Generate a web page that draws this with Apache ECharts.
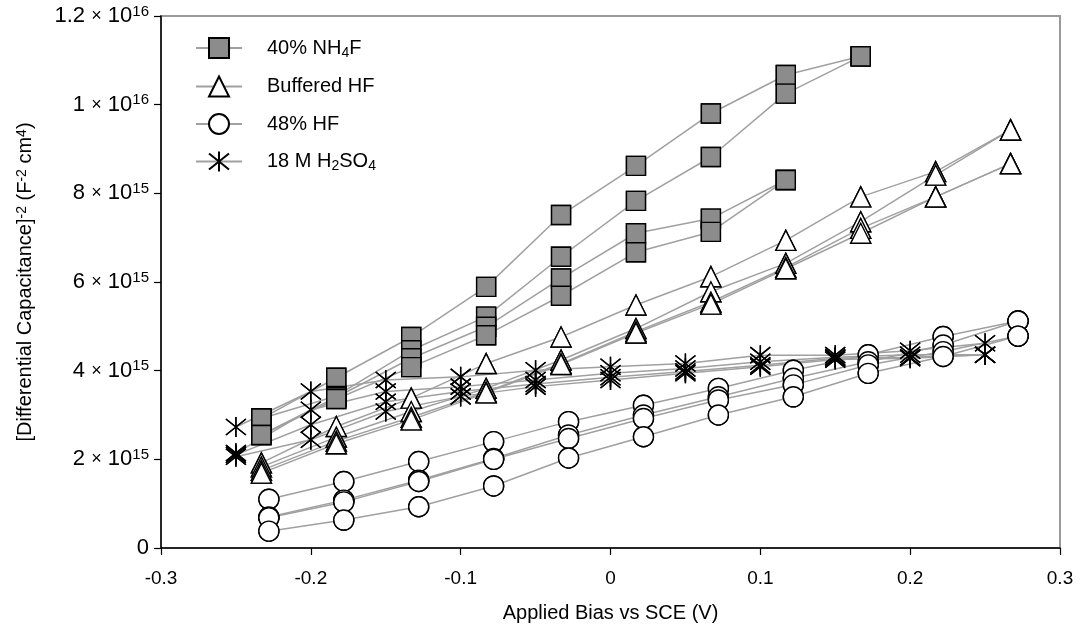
<!DOCTYPE html>
<html><head><meta charset="utf-8">
<script src="https://cdn.jsdelivr.net/npm/echarts@6/dist/echarts.min.js"></script>
<style>html,body{margin:0;padding:0;background:#fff}#c{width:1084px;height:641px}</style>
</head><body><div id="c"></div>
<script>
// x positions (V)
const xNH4F = [-0.233,-0.183,-0.133,-0.083,-0.033,0.017,0.067,0.117,0.167];
const xBHF  = [-0.233,-0.183,-0.133,-0.083,-0.033,0.017,0.067,0.117,0.167,0.217,0.267];
const xHF   = [-0.228,-0.178,-0.128,-0.078,-0.028,0.022,0.072,0.122,0.172,0.222,0.272];
const xH2SO4= [-0.25,-0.2,-0.15,-0.1,-0.05,0,0.05,0.1,0.15,0.2,0.25];
// values in units of 1e15 F^-2 cm^4
const nh4f1 = [2.92,3.84,4.76,5.89,7.51,8.62,9.80,10.67,11.09];
const nh4f2 = [2.92,3.43,4.46,5.22,6.57,7.83,8.82,10.25,11.09];
const nh4f3 = [2.55,3.40,4.28,4.99,6.08,7.10,7.43,8.30];
const nh4f4 = [2.55,3.36,4.08,4.80,5.69,6.67,7.13,8.30];
const bhf1 = [1.92,2.74,3.38,4.16,4.76,5.48,6.12,6.94,7.92,8.49,9.43];
const bhf2 = [1.83,2.50,3.08,3.60,4.24,4.95,5.78,6.42,7.36,8.41,9.43];
const bhf3 = [1.75,2.41,2.95,3.52,4.16,4.88,5.55,6.33,7.21,7.92,8.67];
const bhf4 = [1.69,2.35,2.89,3.50,4.14,4.85,5.50,6.30,7.10,7.92,8.67];
const hf1 = [1.10,1.50,1.95,2.40,2.85,3.22,3.60,4.01,4.36,4.77,5.12];
const hf2 = [0.70,1.08,1.53,2.02,2.55,3.00,3.41,3.83,4.20,4.58,5.12];
const hf3 = [0.68,1.04,1.50,2.00,2.47,2.92,3.34,3.68,4.13,4.43,4.78];
const hf4 = [0.38,0.63,0.93,1.40,2.03,2.51,3.00,3.41,3.94,4.32,4.78];
const so1 = [2.73,3.53,3.79,3.86,4.01,4.09,4.16,4.35,4.35,4.45,4.62];
const so2 = [2.14,3.12,3.53,3.64,3.79,3.94,4.05,4.20,4.30,4.36,4.36];
const so3 = [2.10,2.78,3.30,3.53,3.70,3.85,3.98,4.12,4.28,4.30,4.36];
const so4 = [2.06,2.44,3.08,3.42,3.64,3.79,3.94,4.09,4.25,4.28,4.36];
const yTicks = [0,2,4,6,8,10,12];
const legendNames = ['40% NH4F','Buffered HF','48% HF','18 M H2SO4'];

const FONT = 'Liberation Sans, Arial, sans-serif';
const STAR = 'path://M10,0L10,20M0,2L20,18M0,18L20,2';
const groups = [
  {name:legendNames[0], xs:xNH4F, lines:[nh4f1,nh4f2,nh4f3,nh4f4], symbol:'rect', size:19, fill:'#8c8c8c'},
  {name:legendNames[1], xs:xBHF, lines:[bhf1,bhf2,bhf3,bhf4], symbol:'triangle', size:20, fill:'#fff'},
  {name:legendNames[2], xs:xHF, lines:[hf1,hf2,hf3,hf4], symbol:'circle', size:20, fill:'#fff'},
  {name:legendNames[3], xs:xH2SO4, lines:[so1,so2,so3,so4], symbol:STAR, size:20, fill:'#fff'}
];
const series = [];
groups.forEach(g => {
  g.lines.forEach(ys => {
    const data = ys.map((y,i)=>[g.xs[i], y]);
    series.push({type:'line', name:g.name, data, symbol:g.symbol, symbolSize:g.size, z:2,
      itemStyle:{color:g.fill, borderColor:'#000', borderWidth:1.4},
      lineStyle:{color:'#a0a0a0', width:1.5}, animation:false, silent:true});
  });
});
groups.forEach(g => {
  g.lines.forEach(ys => {
    const data = ys.map((y,i)=>[g.xs[i], y]);
    series.push({type:'scatter', name:g.name, data, symbol:g.symbol, symbolSize:g.size, z:3,
      itemStyle:{color:g.fill, borderColor:'#000', borderWidth:1.4, opacity:1}, animation:false, silent:true});
  });
});
function supLabel(v){
  if (v===0) return '{b|0}';
  const val = v*1e15;
  const e = Math.floor(Math.log10(val)+1e-9);
  const m = Math.round(val/Math.pow(10,e)*10)/10;
  return '{b|'+m+' }{x|×}{b| 10}{s|'+e+'}';
}
const legendMap = {
  '40% NH4F':'{t|40% NH}{sub|4}{t|F}',
  'Buffered HF':'{t|Buffered HF}',
  '48% HF':'{t|48% HF}',
  '18 M H2SO4':'{t|18 M H}{sub|2}{t|SO}{sub|4}'
};
const chart = echarts.init(document.getElementById('c'));
chart.setOption({
  animation:false,
  backgroundColor:'#fff',
  textStyle:{fontFamily:FONT},
  grid:{left:161, right:24, top:16, bottom:93, show:true, borderColor:'#9a9a9a', borderWidth:2},
  legend:{show:true, orient:'vertical', left:190, top:32, itemWidth:46, itemHeight:25, itemGap:15.5,
    data:legendNames, selectedMode:false,
    formatter:n=>legendMap[n],
    textStyle:{fontFamily:FONT, fontSize:20, color:'#000', padding:[0,0,0,20],
      rich:{t:{fontFamily:FONT,fontSize:20,color:'#000',lineHeight:24,verticalAlign:'middle'},
            sub:{fontFamily:FONT,fontSize:14,color:'#000',lineHeight:6,verticalAlign:'bottom'}}}},
  xAxis:{type:'value', min:-0.3, max:0.3, interval:0.1,
    axisLine:{show:true, onZero:false, lineStyle:{color:'#000', width:1.5}},
    axisTick:{show:true, length:7, lineStyle:{color:'#000', width:1.2}},
    splitLine:{show:false},
    axisLabel:{fontFamily:FONT, fontSize:19, color:'#000', margin:21,
      formatter:v=>{const r=Math.round(v*10)/10; return r===0?'0':r.toFixed(1);}},
    name:'Applied Bias vs SCE (V)', nameLocation:'middle', nameGap:55,
    nameTextStyle:{fontFamily:FONT, fontSize:20, color:'#000'}},
  yAxis:{type:'value', min:0, max:12, interval:2,
    axisLine:{show:true, onZero:false, lineStyle:{color:'#000', width:1.5}},
    axisTick:{show:true, length:7, lineStyle:{color:'#000', width:1.2}},
    splitLine:{show:false},
    axisLabel:{margin:12, color:'#000', fontSize:22, formatter:supLabel,
      rich:{b:{fontFamily:FONT,fontSize:22,color:'#000',lineHeight:24,verticalAlign:'middle'},
            x:{fontFamily:FONT,fontSize:18,color:'#000',lineHeight:24,verticalAlign:'middle'},
            s:{fontFamily:FONT,fontSize:15,color:'#000',lineHeight:11,verticalAlign:'top'}}},
    name:'[Differential Capacitance]{s|-2} (F{s|-2} cm{s|4})', nameLocation:'middle', nameRotate:90, nameGap:126,
    nameTextStyle:{fontFamily:FONT, fontSize:20, color:'#000',
      rich:{s:{fontFamily:FONT,fontSize:14,color:'#000',lineHeight:10,verticalAlign:'top'}}}},
  series
});
</script></body></html>
